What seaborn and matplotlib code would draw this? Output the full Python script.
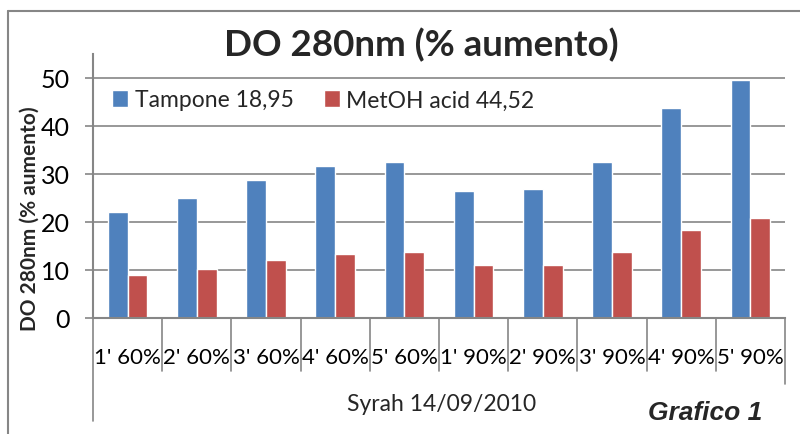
import matplotlib
matplotlib.use("Agg")
import numpy as np
import pandas as pd
import seaborn as sns
import matplotlib.pyplot as plt
from matplotlib.lines import Line2D
from matplotlib.transforms import blended_transform_factory

# ---- data ----
categories = ["1' 60%", "2' 60%", "3' 60%", "4' 60%", "5' 60%",
              "1' 90%", "2' 90%", "3' 90%", "4' 90%", "5' 90%"]
tampone = [22.0, 25.1, 28.8, 31.7, 32.6, 26.5, 26.9, 32.6, 43.8, 49.5]
metoh = [9.0, 10.2, 12.1, 13.4, 13.8, 11.1, 11.1, 13.8, 18.4, 20.9]
series_names = ["Tampone 18,95", "MetOH acid 44,52"]
yticks = [0, 10, 20, 30, 40, 50]
title_text = "DO 280nm (% aumento)"
ylabel_text = "DO 280nm (% aumento)"
group_label = "Syrah 14/09/2010"
note_text = "Grafico 1"

df = pd.DataFrame({
    "cat": categories * 2,
    "val": tampone + metoh,
    "series": [series_names[0]] * len(categories) + [series_names[1]] * len(categories),
})

sns.set_theme(style="white")
plt.rcParams['font.family'] = ['Lato', 'DejaVu Sans']

GRAY = "#868686"
W, H = 800, 435
fig = plt.figure(figsize=(W / 100, H / 100), dpi=100)
ax_left, ax_right, ax_bot, ax_top = 93, 785, 319, 55
ax = fig.add_axes([ax_left / W, 1 - ax_bot / H, (ax_right - ax_left) / W, (ax_bot - ax_top) / H])
ax_h = ax_bot - ax_top

sns.barplot(data=df, x="cat", y="val", hue="series", order=categories,
            hue_order=series_names, palette=["#4F81BD", "#C0504D"],
            saturation=1, width=0.57, gap=0, ax=ax, errorbar=None)

ax.set_ylim(0, 55)
ax.set_xlim(-0.5, len(categories) - 0.5)
ax.set_yticks(yticks)
ax.yaxis.grid(True, color=GRAY, lw=1.2)
ax.xaxis.grid(False)
ax.set_axisbelow(True)
for s in ["top", "right"]:
    ax.spines[s].set_visible(False)
ax.spines["left"].set_color(GRAY)
ax.spines["left"].set_linewidth(1.5)
ax.spines["bottom"].set_color(GRAY)
ax.spines["bottom"].set_linewidth(1.5)
ax.set_xlabel("")
ax.set_ylabel("")
ax.tick_params(axis="y", direction="out", length=5.5, width=1.2, color=GRAY,
               pad=11, labelsize=18, labelcolor="black", left=True)
ax.tick_params(axis="x", length=0, pad=21, labelsize=16, labelcolor="black")

# category frame lines below the axis
tr = blended_transform_factory(ax.transData, ax.transAxes)
n = len(categories)
for i in range(n + 1):
    x = i - 0.5
    if i == 0:
        yb = -(422 - ax_bot) / ax_h
    elif i == n:
        yb = -(385 - ax_bot) / ax_h
    else:
        yb = -(372 - ax_bot) / ax_h
    ax.plot([x, x], [0, yb], transform=tr, clip_on=False, color=GRAY, lw=1.2)

ax.text(0.503, -(405 - ax_bot) / ax_h, group_label, transform=ax.transAxes,
        ha="center", va="center", fontsize=16.5)

# legend
handles, labels = ax.get_legend_handles_labels()
ax.legend(handles, labels, loc="center left",
          bbox_to_anchor=((112 - ax_left) / (ax_right - ax_left), (ax_bot - 101) / ax_h),
          ncol=2, frameon=False, fontsize=16.5, handlelength=0.7, handleheight=0.7,
          handletextpad=0.3, columnspacing=1.3, borderpad=0, borderaxespad=0)

fig.text(421 / W, 1 - 45 / H, title_text, ha="center", va="center",
         fontsize=26.5, fontweight="bold")
fig.text(30 / W, 1 - 219 / H, ylabel_text, ha="center", va="center",
         rotation=90, fontsize=15, fontweight="bold")
fig.text(705 / W, 1 - 413 / H, note_text, ha="center", va="center",
         fontsize=19, fontweight="bold", fontstyle="italic",
         family=["Liberation Sans", "DejaVu Sans"])

# outer chart frame
fig.add_artist(Line2D([8 / W, 8 / W], [0, 1 - 12 / H], transform=fig.transFigure, color=GRAY, lw=1.5))
fig.add_artist(Line2D([8 / W, 1], [1 - 12 / H, 1 - 12 / H], transform=fig.transFigure, color=GRAY, lw=1.5))

fig.savefig("out.png", dpi=100)
